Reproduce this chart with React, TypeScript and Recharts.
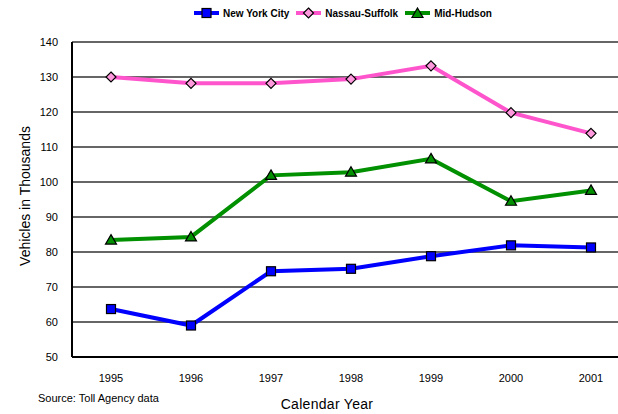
import React from 'react';
import { LineChart, Line, XAxis, YAxis, CartesianGrid, Legend, Label } from 'recharts';

const years = ['1995', '1996', '1997', '1998', '1999', '2000', '2001'];
const newYorkCity = [63.7, 59.0, 74.5, 75.2, 78.8, 81.9, 81.3];
const nassauSuffolk = [130.0, 128.2, 128.2, 129.4, 133.2, 119.8, 113.9];
const midHudson = [83.4, 84.3, 101.9, 102.8, 106.6, 94.5, 97.6];
const yTicks = [50, 60, 70, 80, 90, 100, 110, 120, 130, 140];

const data = years.map((y, i) => ({
  year: y,
  nyc: newYorkCity[i],
  ns: nassauSuffolk[i],
  mh: midHudson[i],
}));

const BLUE = '#0000ff';
const PINK = '#ff55cc';
const PINK_FILL = '#ff99dd';
const GREEN = '#009000';
const FONT = 'Arial, "Liberation Sans", sans-serif';

const SquareDot = (props: any) => {
  const { cx, cy } = props;
  if (cx == null || cy == null) return null;
  return <rect x={cx - 4.5} y={cy - 4.5} width={9} height={9} fill={BLUE} stroke="#000" strokeWidth={1.2} />;
};
const DiamondDot = (props: any) => {
  const { cx, cy } = props;
  if (cx == null || cy == null) return null;
  const r = 5;
  return (
    <polygon
      points={`${cx},${cy - r} ${cx + r},${cy} ${cx},${cy + r} ${cx - r},${cy}`}
      fill={PINK_FILL}
      stroke="#000"
      strokeWidth={1.2}
    />
  );
};
const TriangleDot = (props: any) => {
  const { cx, cy } = props;
  if (cx == null || cy == null) return null;
  return (
    <polygon
      points={`${cx},${cy - 5.5} ${cx + 5.5},${cy + 4} ${cx - 5.5},${cy + 4}`}
      fill={GREEN}
      stroke="#000"
      strokeWidth={1.2}
    />
  );
};

const legendItems = [
  { name: 'New York City', color: BLUE, shape: 'square' },
  { name: 'Nassau-Suffolk', color: PINK, shape: 'diamond' },
  { name: 'Mid-Hudson', color: GREEN, shape: 'triangle' },
];

const LegendIcon = ({ color, shape }: { color: string; shape: string }) => (
  <svg width={27} height={12} style={{ marginRight: 3 }}>
    <line x1={1} y1={6} x2={26} y2={6} stroke={color} strokeWidth={4} />
    {shape === 'square' && <rect x={9} y={1.5} width={9} height={9} fill={BLUE} stroke="#000" strokeWidth={1.2} />}
    {shape === 'diamond' && (
      <polygon points="13.5,1 18.5,6 13.5,11 8.5,6" fill={PINK_FILL} stroke="#000" strokeWidth={1.2} />
    )}
    {shape === 'triangle' && (
      <polygon points="13.5,1 19,10.5 8,10.5" fill={GREEN} stroke="#000" strokeWidth={1.2} />
    )}
  </svg>
);

const renderLegend = () => (
  <div style={{ display: 'flex', alignItems: 'center', fontFamily: FONT, fontSize: 10, fontWeight: 'bold' }}>
    {legendItems.map((it) => (
      <div key={it.name} style={{ display: 'flex', alignItems: 'center', marginRight: 6 }}>
        <LegendIcon color={it.color} shape={it.shape} />
        <span>{it.name}</span>
      </div>
    ))}
  </div>
);

export default function App() {
  return (
    <div style={{ position: 'absolute', left: 0, top: 0, width: 618, height: 414, overflow: 'hidden', background: '#fff' }}>
      <LineChart width={640} height={414} data={data} margin={{ top: 30, right: 9, bottom: 27, left: 0 }}>
        <CartesianGrid vertical={false} stroke="#333" strokeWidth={1.5} />
        <XAxis
          dataKey="year"
          tickLine={false}
          axisLine={{ stroke: '#000', strokeWidth: 2 }}
          tick={{ fill: '#000', fontSize: 11, fontFamily: FONT }}
          tickMargin={11}
          height={30}
          interval={0}
          padding={{ left: 39, right: 40 }}
        />
        <YAxis
          width={72}
          domain={[50, 140]}
          ticks={yTicks}
          tickLine={false}
          axisLine={{ stroke: '#000', strokeWidth: 2 }}
          tick={{ fill: '#000', fontSize: 11, fontFamily: FONT }}
          tickMargin={8}
          interval={0}
        >
          <Label
            content={() => (
              <text
                x={25}
                y={196}
                transform="rotate(-90 25 196)"
                textAnchor="middle"
                dominantBaseline="central"
                fontFamily={FONT}
                fontSize={14}
                fill="#000"
              >
                Vehicles in Thousands
              </text>
            )}
          />
        </YAxis>
        <Legend
          verticalAlign="top"
          content={renderLegend}
          wrapperStyle={{ position: 'absolute', top: 7, left: 193, width: 'auto' }}
        />
        <Line dataKey="nyc" name="New York City" stroke={BLUE} strokeWidth={4} dot={<SquareDot />} isAnimationActive={false} />
        <Line dataKey="ns" name="Nassau-Suffolk" stroke={PINK} strokeWidth={4} dot={<DiamondDot />} isAnimationActive={false} />
        <Line dataKey="mh" name="Mid-Hudson" stroke={GREEN} strokeWidth={4} dot={<TriangleDot />} isAnimationActive={false} />
        <text x={38} y={398} dominantBaseline="central" fontFamily={FONT} fontSize={11} fill="#000">
          Source: Toll Agency data
        </text>
        <text x={327} y={404} textAnchor="middle" dominantBaseline="central" fontFamily={FONT} fontSize={14} fill="#000" letterSpacing={0.3}>
          Calendar Year
        </text>
      </LineChart>
    </div>
  );
}
